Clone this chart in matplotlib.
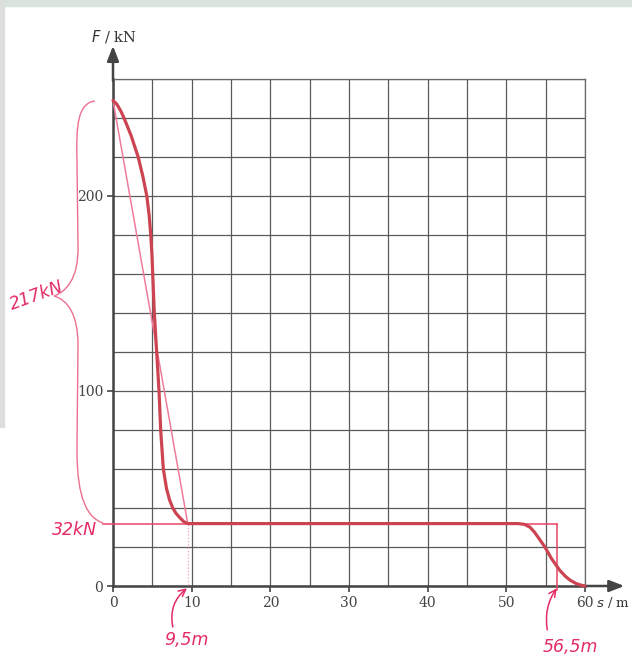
import matplotlib
matplotlib.use("Agg")
import matplotlib.pyplot as plt
from matplotlib.path import Path
from matplotlib.patches import PathPatch, Rectangle

# measured force-distance curve (s in m, F in kN)
s_curve = [0, 0.5, 1.0, 1.4, 2.3, 3.2, 3.8, 4.3, 4.6, 4.8, 4.95, 5.05, 5.25,
           5.55, 5.85, 6.06, 6.4, 6.8, 7.2, 7.6, 8.0, 8.5, 9.0, 9.5, 20, 30,
           40, 51.5, 52.3, 53.0, 53.6, 54.3, 54.9, 55.75, 56.8, 57.5, 58.1,
           58.9, 59.6, 60]
F_curve = [249, 247, 243.5, 240, 231, 220, 210, 200, 190, 180, 170, 160, 140,
           120, 100, 80, 60, 50, 44, 40, 37.3, 35, 33, 32, 32, 32,
           32, 32, 31.6, 30.2, 27.5, 23.5, 20, 14, 8, 5, 3,
           1.2, 0.3, 0]

# hand-drawn approximation
s_lin = [0, 9.5]
F_lin = [249, 32]
F_const = 32
s_start = 9.5
s_end = 56.5

x_ticks = [0, 10, 20, 30, 40, 50, 60]
y_ticks = [0, 100, 200]

W, H = 632, 657
fig = plt.figure(figsize=(W / 100, H / 100), dpi=100)
fig.patches.append(Rectangle((0, 1 - 6 / H), 1, 6 / H, transform=fig.transFigure,
                             color="#d8e4dd", zorder=0))
fig.patches.append(Rectangle((0, 0.35), 4 / W, 0.65, transform=fig.transFigure,
                             color="#dcdfdc", zorder=0))

ax = fig.add_axes([113 / W, 71 / H, 472 / W, 507 / H])
ax.set_xlim(0, 60)
ax.set_ylim(0, 260)

serif = "DejaVu Serif"
ax.set_xticks(x_ticks)
ax.set_xticks(range(0, 61, 5), minor=True)
ax.set_yticks(y_ticks)
ax.set_yticks(range(0, 261, 20), minor=True)
ax.grid(True, which="both", color="#5a5a5a", lw=0.9)
ax.tick_params(which="major", length=4, width=1.2, color="#444", pad=3,
               labelsize=10, labelcolor="#444")
ax.tick_params(which="minor", length=0)
for lab in ax.get_xticklabels() + ax.get_yticklabels():
    lab.set_family(serif)
for side in ["top", "right"]:
    ax.spines[side].set_color("#666")
    ax.spines[side].set_linewidth(0.9)
for side in ["left", "bottom"]:
    ax.spines[side].set_color("#444")
    ax.spines[side].set_linewidth(1.8)

# axis arrows
arr = dict(arrowstyle="-|>,head_length=0.9,head_width=0.35", color="#444", lw=1.8,
           shrinkA=0, shrinkB=0)
ax.annotate("", xy=(0, 277), xytext=(0, 259), arrowprops=arr, annotation_clip=False)
ax.annotate("", xy=(65, 0), xytext=(59.8, 0), arrowprops=arr, annotation_clip=False)
ax.text(0.1, 282, r"$F$ / kN", ha="center", va="center", fontsize=10.5,
        family=serif, color="#333", clip_on=False)
ax.text(61.4, -8.7, r"$s$ / m", ha="left", va="center", fontsize=9.5,
        family=serif, color="#333", clip_on=False)

# curves
pink = "#e42c64"
ax.plot(s_lin, F_lin, color="#f07c9c", lw=1.1, zorder=3)
ax.plot([-1.3, s_end], [F_const, F_const], color="#e84466", lw=1.1, zorder=3,
        clip_on=False)
ax.plot([s_end, s_end], [F_const, -2], color="#e84466", lw=1.1, zorder=3,
        clip_on=False)
ax.plot([s_start, s_start], [F_const, 0], color="#f4a0b4", lw=0.9, ls=":", zorder=3)
ax.plot(s_curve, F_curve, color="#cc4452", lw=2.3, zorder=4, solid_capstyle="round",
        solid_joinstyle="round", clip_on=False)

# curly brace for 217 kN
verts = [(-2.29, 248.7), (-4.45, 247.7), (-4.70, 236.4), (-4.58, 218.5),
         (-4.45, 174.9),
         (-4.32, 156.9), (-6.10, 150.8), (-7.50, 148.7),
         (-5.72, 146.7), (-4.45, 139.0), (-4.45, 123.6),
         (-4.58, 69.7),
         (-4.58, 44.1), (-3.18, 34.9), (-1.27, 32.3)]
codes = [Path.MOVETO, Path.CURVE4, Path.CURVE4, Path.CURVE4,
         Path.LINETO,
         Path.CURVE4, Path.CURVE4, Path.CURVE4,
         Path.CURVE4, Path.CURVE4, Path.CURVE4,
         Path.LINETO,
         Path.CURVE4, Path.CURVE4, Path.CURVE4]
ax.add_patch(PathPatch(Path(verts, codes), fill=False, ec="#ec6f90", lw=1.0,
                       clip_on=False))

hand = dict(color=pink, fontsize=12.5, style="italic", family="DejaVu Sans",
            ha="center", va="center", clip_on=False)
ax.text(-9.66, 148.7, "217kN", rotation=20, **hand)
ax.text(-4.9, 28.7, "32kN", **hand)
ax.text(9.28, -27.7, "9,5m", **hand)
ax.text(58.1, -31.3, "56,5m", **hand)

harr = dict(arrowstyle="->,head_length=0.5,head_width=0.25", color=pink, lw=1.1,
            shrinkA=0, shrinkB=0)
ax.annotate("", xy=(9.4, -1.2), xytext=(7.6, -21),
            arrowprops=dict(harr, connectionstyle="arc3,rad=-0.3"),
            annotation_clip=False)
ax.annotate("", xy=(56.4, -1.2), xytext=(55.2, -22.5),
            arrowprops=dict(harr, connectionstyle="arc3,rad=-0.2"),
            annotation_clip=False)

fig.savefig("out.png", dpi=100)
